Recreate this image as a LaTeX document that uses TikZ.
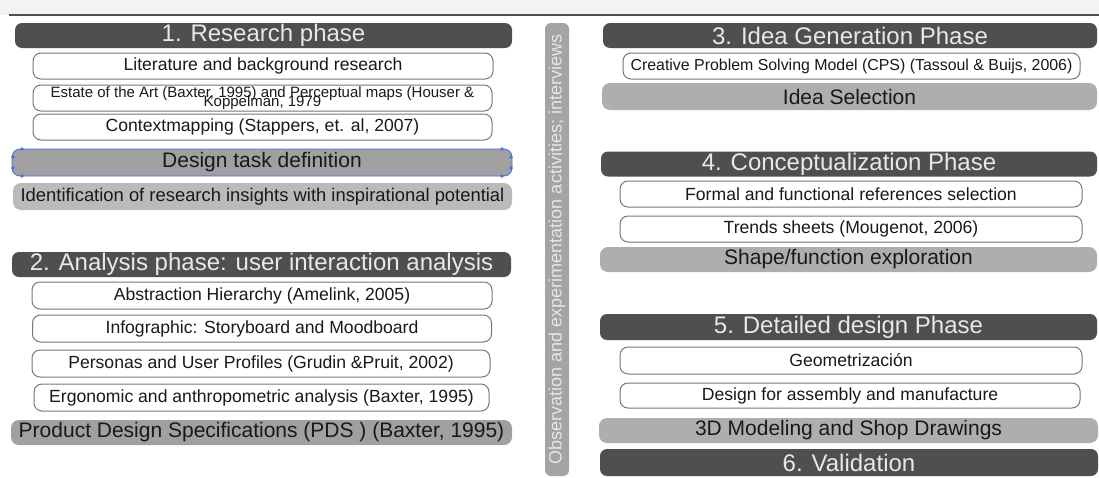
\documentclass[tikz,border=0pt]{standalone}
\usepackage{fontspec}
\setmainfont{Liberation Sans}
\definecolor{phasegray}{HTML}{4F4F4F}
\definecolor{phasetext}{HTML}{E8E8E8}
\definecolor{resultgray}{HTML}{AEAEAE}
\definecolor{boxline}{HTML}{777777}
\definecolor{bargray}{HTML}{A4A4A4}
\definecolor{bartext}{HTML}{E6E6E6}
\definecolor{topgray}{HTML}{F3F3F3}
\definecolor{selblue}{HTML}{4A6FD8}
\tikzset{
	phase/.style={fill=phasegray,text=phasetext,rounded corners=7pt,inner sep=0pt,minimum height=25pt,font=\fontsize{24}{24}\selectfont},
	tool/.style={draw=boxline,line width=1pt,fill=white,text=black!90,rounded corners=8pt,inner sep=0pt,minimum height=26pt,font=\fontsize{17.6}{17.6}\selectfont},
	result/.style={fill=resultgray,text=black!90,rounded corners=8pt,inner sep=0pt,minimum height=26pt,font=\fontsize{21}{21}\selectfont},
	obsbar/.style={fill=bargray,text=bartext,rounded corners=6pt,inner sep=0pt,minimum height=24pt,font=\fontsize{18}{18}\selectfont}
}
\begin{document}
\begin{tikzpicture}[x=1pt,y=-1pt]
	\useasboundingbox (0,0) rectangle (1099,477);
	\fill[topgray] (0,0) rectangle (1099,15);
	\draw[phasegray,line width=1.2pt] (9,15) -- (1099,15);

	\node[phase,minimum width=497pt] (ph1) at (263.5,35.5) {1. Research phase};
	\node[tool,minimum width=460pt] (lit) at (263,66) {Literature and background research};
	\node[tool,minimum width=459pt,align=center,font=\fontsize{15}{15}\selectfont] (soa) at (262.5,98) {Estate of the Art (Baxter, 1995) and Perceptual maps (Houser \&\\[-5.5pt]Koppelman, 1979};
	\node[tool,minimum width=459pt] (ctx) at (262.5,127) {Contextmapping (Stappers, et. al, 2007)};
	\node[result,minimum width=500pt,minimum height=27pt,fill=resultgray!92!black,draw=selblue,line width=0.8pt] (dtd) at (262,162.5) {Design task definition};
	\foreach \p in {(22,149),(13,157),(13,168),(22,176),(502,149),(511,157),(511,168),(502,176)}
		\fill[selblue] \p circle (1.8pt);
	\node[result,minimum width=499pt,minimum height=27pt,fill=resultgray!85!white,font=\fontsize{18.4}{18.4}\selectfont] (irs) at (262.5,196.5) {Identification of research insights with inspirational potential};

	\node[phase,minimum width=499pt] (ph2) at (261.5,264.5) {2. Analysis phase: user interaction analysis};
	\node[tool,minimum width=460pt,minimum height=27pt] (abs) at (262,295.5) {Abstraction Hierarchy (Amelink, 2005)};
	\node[tool,minimum width=459pt,minimum height=27pt] (inf) at (262,328.5) {Infographic: Storyboard and Moodboard};
	\node[tool,minimum width=458pt,minimum height=27pt] (per) at (261,363.5) {Personas and User Profiles (Grudin \&Pruit, 2002)};
	\node[tool,minimum width=455pt,minimum height=27pt] (erg) at (261.5,397.5) {Ergonomic and anthropometric analysis (Baxter, 1995)};
	\node[result,minimum width=501pt,minimum height=25pt,fill=resultgray!92!black] (pds) at (261.5,432.5) {Product Design Specifications (PDS ) (Baxter, 1995)};

	\node[obsbar,rotate=90,minimum width=453pt] (obs) at (557,249.5) {Observation and experimentation activities; interviews};

	\node[phase,minimum width=494pt] (ph3) at (850,35.5) {3. Idea Generation Phase};
	\node[tool,minimum width=457pt,font=\fontsize{15.9}{15.9}\selectfont] (cps) at (851.5,66) {Creative Problem Solving Model (CPS) (Tassoul \& Buijs, 2006)};
	\node[result,minimum width=495pt,minimum height=27pt] (ids) at (849.5,96.5) {Idea Selection};

	\node[phase,minimum width=496pt] (ph4) at (849,164) {4. Conceptualization Phase};
	\node[tool,minimum width=462pt] (frs) at (851,194) {Formal and functional references selection};
	\node[tool,minimum width=462pt] (trs) at (851,229) {Trends sheets (Mougenot, 2006)};
	\node[result,minimum width=497pt,minimum height=25pt] (sfe) at (848.5,259.5) {Shape/function exploration};

	\node[phase,minimum width=497pt,minimum height=26pt] (ph5) at (848.5,327) {5. Detailed design Phase};
	\node[tool,minimum width=462pt,minimum height=27pt] (geo) at (851,360.5) {Geometrización};
	\node[tool,minimum width=460pt,minimum height=25pt] (dam) at (850,395.5) {Design for assembly and manufacture};
	\node[result,minimum width=499pt,minimum height=25pt] (mod) at (848.5,430.5) {3D Modeling and Shop Drawings};
	\node[phase,minimum width=498pt,minimum height=27pt] (val) at (849,462.5) {6. Validation};
\end{tikzpicture}
\end{document}
